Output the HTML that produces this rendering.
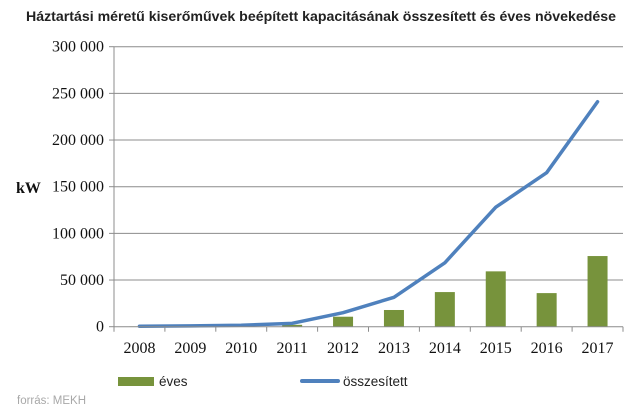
<!DOCTYPE html>
<html><head><meta charset="utf-8"><style>
body{margin:0;background:#fff;width:640px;height:412px;overflow:hidden}
svg text{font-family:"Liberation Serif",serif}
</style></head><body>
<svg id="chart" width="640" height="412" xmlns="http://www.w3.org/2000/svg">
<text x="321" y="21" text-anchor="middle" style="font-family:'Liberation Sans',sans-serif;font-weight:bold;font-size:13.5px" fill="#222" textLength="590" lengthAdjust="spacingAndGlyphs">Háztartási méretű kiserőművek beépített kapacitásának összesített és éves növekedése</text>
<text x="16" y="193" font-weight="bold" font-size="16" fill="#111">kW</text>
<g id="grid"></g><g id="bars"></g><g id="line"></g><g id="axes"></g>
<g>
<rect x="118" y="377" width="36" height="9" fill="#77933c"/>
<text x="159" y="386" style="font-family:'Liberation Sans',sans-serif" font-size="13.5" fill="#222">éves</text>
<line x1="302" y1="381" x2="338" y2="381" stroke="#4f81bd" stroke-width="4" stroke-linecap="round"/>
<text x="343" y="386" style="font-family:'Liberation Sans',sans-serif" font-size="13.5" fill="#222">összesített</text>
</g>
<text x="17" y="404" style="font-family:'Liberation Sans',sans-serif" font-size="11.5" fill="#a8a8a8">forrás: MEKH</text>
</svg>
<script>
const categories=["2008","2009","2010","2011","2012","2013","2014","2015","2016","2017"];
const annualValues=[300,600,700,2000,10700,17900,37100,59300,36000,75700];
const cumulativeValues=[500,900,1600,3600,15000,31500,68500,128000,165000,241000];
const yTicks=[0,50000,100000,150000,200000,250000,300000];
const yTickLabels=["0","50 000","100 000","150 000","200 000","250 000","300 000"];
const NS="http://www.w3.org/2000/svg";
const X0=114,X1=623,Y0=326.7,Y1=46.7,YMAX=300000;
const bw=(X1-X0)/categories.length;
function xc(i){return X0+bw*(i+0.5);}
function y(v){return Y0-(v/YMAX)*(Y0-Y1);}
function mk(t,a,p){const e=document.createElementNS(NS,t);for(const k in a)e.setAttribute(k,a[k]);p.appendChild(e);return e;}
const grid=document.getElementById('grid'),axes=document.getElementById('axes');
yTicks.forEach((v,i)=>{
  if(v>0){const g=mk('line',{x1:X0,x2:X1,y1:y(v),y2:y(v),stroke:'#8c8c8c','stroke-width':1},grid);
  
  }
  const tk=mk('line',{x1:X0-5,x2:X0,y1:y(v),y2:y(v),stroke:'#8c8c8c'},axes);
  
  
  const t=mk('text',{x:104,y:y(v)+5,'text-anchor':'end','font-size':16,fill:'#111'},axes);
  t.textContent=yTickLabels[i];
  
  
});
const ax=mk('line',{x1:X0,x2:X0,y1:Y1,y2:Y0,stroke:'#8c8c8c'},axes);


const bx=mk('line',{x1:X0,x2:X1,y1:Y0,y2:Y0,stroke:'#8c8c8c'},axes);


for(let i=0;i<=categories.length;i++){
  const tk=mk('line',{x1:X0+bw*i,x2:X0+bw*i,y1:Y0,y2:Y0+5,stroke:'#8c8c8c'},axes);
  
  
}
const bars=document.getElementById('bars');
categories.forEach((c,i)=>{
  const b=mk('rect',{x:xc(i)-10,y:y(annualValues[i]),width:20,height:Y0-y(annualValues[i]),fill:'#77933c'},bars);
  
  
  const t=mk('text',{x:xc(i),y:353,'text-anchor':'middle','font-size':16,fill:'#111'},axes);
  t.textContent=c;
  
  
});
const pts=cumulativeValues.map((v,i)=>xc(i)+','+y(v)).join(' ');
const pl=mk('polyline',{points:pts,fill:'none',stroke:'#4f81bd','stroke-width':3.5,'stroke-linejoin':'round','stroke-linecap':'round'},document.getElementById('line'));


</script>
</body></html>
